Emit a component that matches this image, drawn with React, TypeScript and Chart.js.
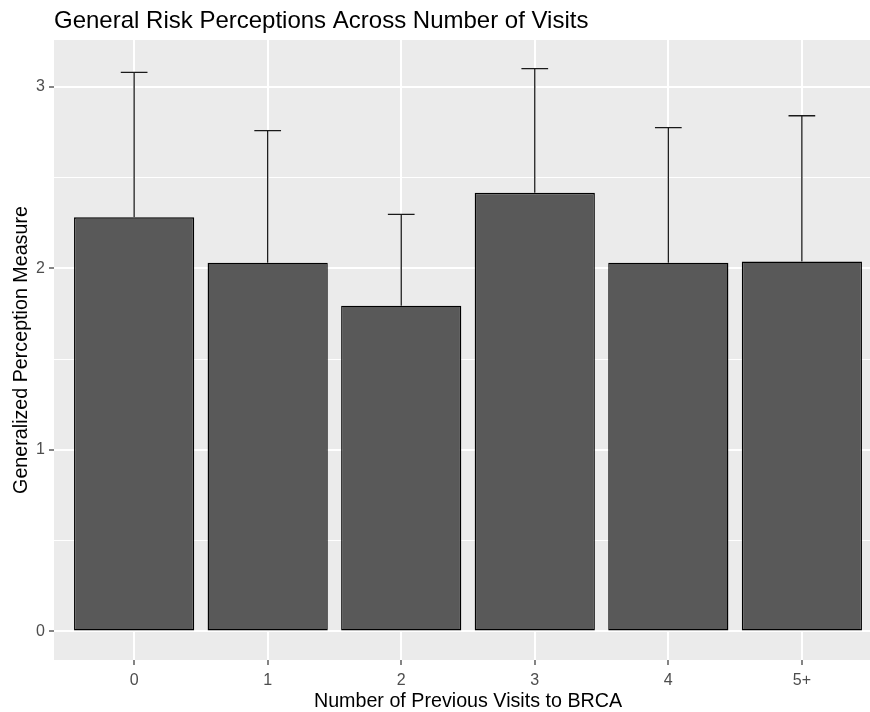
import React, { useEffect, useRef } from "react";
import { Chart, registerables } from "chart.js";

Chart.register(...registerables);

const categories = ["0", "1", "2", "3", "4", "5+"];
const means = [2.281, 2.031, 1.794, 2.416, 2.031, 2.037];
const upperErr = [3.079, 2.758, 2.297, 3.099, 2.774, 2.840];
const yMajorTicks = [0, 1, 2, 3];
const yMinorTicks = [0.5, 1.5, 2.5];

const FONT = "'Liberation Sans', Arial, Helvetica, sans-serif";

const panelBg = {
  id: "panelBg",
  beforeDraw(chart: any) {
    const { ctx, chartArea } = chart;
    ctx.save();
    ctx.fillStyle = "#EBEBEB";
    ctx.fillRect(chartArea.left, chartArea.top, chartArea.right - chartArea.left, chartArea.bottom - chartArea.top);
    ctx.restore();
  },
};

const errorBars = {
  id: "errorBars",
  afterDatasetsDraw(chart: any) {
    const { ctx } = chart;
    const xs = chart.scales.x;
    const ys = chart.scales.y;
    ctx.save();
    ctx.strokeStyle = "#1A1A1A";
    ctx.lineWidth = 1.3;
    means.forEach((m, i) => {
      const x = xs.getPixelForValue(i);
      const half = xs.getPixelForValue(i + 0.1) - x;
      const y0 = ys.getPixelForValue(m);
      const y1 = ys.getPixelForValue(upperErr[i]);
      ctx.beginPath();
      ctx.moveTo(x, y0);
      ctx.lineTo(x, y1);
      ctx.moveTo(x - half, y1);
      ctx.lineTo(x + half, y1);
      ctx.stroke();
    });
    ctx.restore();
  },
};

export default function App() {
  const ref = useRef<HTMLCanvasElement | null>(null);
  useEffect(() => {
    if (!ref.current) return;
    const chart = new Chart(ref.current, {
      type: "bar",
      data: {
        datasets: [
          {
            data: means.map((v, i) => ({ x: i, y: v })),
            backgroundColor: "#595959",
            borderColor: "#000000",
            borderWidth: 1.4,
            borderSkipped: false,
            barPercentage: 0.9,
            categoryPercentage: 1,
          },
        ],
      },
      options: {
        animation: false,
        responsive: false,
        maintainAspectRatio: false,
        layout: { padding: { left: 0, right: 8, top: 0, bottom: 0 } },
        plugins: {
          legend: { display: false },
          tooltip: { enabled: false },
          title: {
            display: true,
            text: "General Risk Perceptions Across Number of Visits",
            align: "start",
            fullSize: false,
            color: "#000000",
            font: { family: FONT, size: 24, weight: "normal" },
            padding: { top: 6.5, bottom: 4.7 },
          },
        },
        scales: {
          x: {
            type: "linear",
            offset: false,
            min: -0.6,
            max: 5.6,
            afterFit(scale: any) {
              scale.height = 52;
            },
            afterBuildTicks(scale: any) {
              scale.ticks = categories.map((_, i) => ({ value: i }));
            },
            ticks: {
              autoSkip: false,
              maxRotation: 0,
              padding: 6,
              color: "#4D4D4D",
              font: { family: FONT, size: 16 },
              callback: (v: any) => categories[v] ?? "",
            },
            grid: {
              offset: false,
              color: "#FFFFFF",
              lineWidth: 2,
              tickColor: "#333333",
              tickLength: 5,
              tickWidth: 1.2,
            },
            border: { display: false },
            title: {
              display: true,
              text: "Number of Previous Visits to BRCA",
              color: "#000000",
              font: { family: FONT, size: 19.7 },
              padding: { top: 0, bottom: -1 },
            },
          },
          y: {
            type: "linear",
            min: -0.157,
            max: 3.257,
            afterFit(scale: any) {
              scale.width = 54;
            },
            afterBuildTicks(scale: any) {
              scale.ticks = [...yMajorTicks, ...yMinorTicks]
                .sort((a, b) => a - b)
                .map((v) => ({ value: v }));
            },
            ticks: {
              padding: 4,
              color: "#4D4D4D",
              font: { family: FONT, size: 16 },
              callback: (v: any) => (yMajorTicks.includes(v) ? String(v) : ""),
            },
            grid: {
              color: "#FFFFFF",
              lineWidth: (c: any) => (yMajorTicks.includes(c.tick?.value) ? 2 : 1),
              tickColor: (c: any) => (yMajorTicks.includes(c.tick?.value) ? "#333333" : "rgba(0,0,0,0)"),
              tickLength: 5,
              tickWidth: 1.2,
            },
            border: { display: false },
            title: {
              display: true,
              text: "Generalized Perception Measure",
              color: "#000000",
              font: { family: FONT, size: 19.7 },
              padding: { top: 10, bottom: 0 },
            },
          },
        },
      },
      plugins: [panelBg, errorBars],
    } as any);
    return () => chart.destroy();
  }, []);

  return (
    <div style={{ position: "fixed", left: 0, top: 0, width: 870, height: 712, overflow: "hidden", background: "#FFFFFF" }}>
      <canvas ref={ref} width={890} height={712} style={{ display: "block", width: 890, height: 712 }} />
    </div>
  );
}
